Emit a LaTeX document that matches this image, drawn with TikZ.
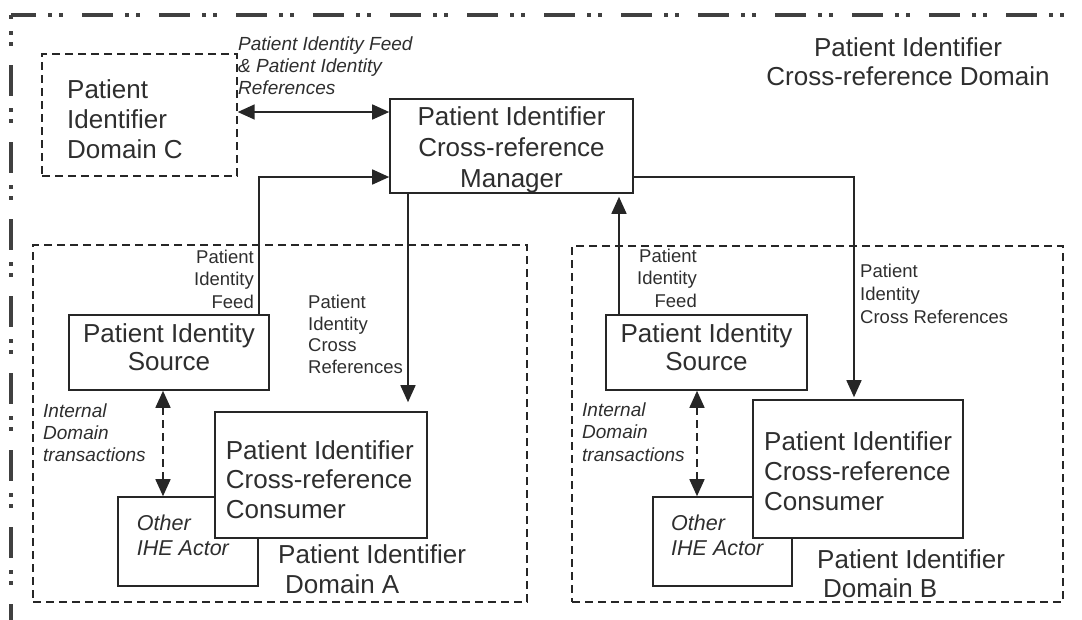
\documentclass[tikz,border=0pt]{standalone}
\usepackage{fontspec}
\setmainfont{Liberation Sans}
\usetikzlibrary{arrows.meta}

\definecolor{ink}{HTML}{262626}
\definecolor{txt}{HTML}{2E2E2E}
\definecolor{frame}{HTML}{404040}

\tikzset{
  actor/.style={draw=ink, line width=1.6pt, fill=white, inner sep=0pt},
  domainbox/.style={draw=ink, line width=1.4pt, dash pattern=on 8pt off 5pt, inner sep=0pt},
  bigtext/.style={font=\fontsize{26}{#1}\selectfont, text=txt, inner sep=0pt},
  bigtext/.default=30,
  smalltext/.style={font=\fontsize{18.5}{#1}\selectfont, text=txt, inner sep=0pt},
  smalltext/.default=22.5,
  itext/.style={font=\itshape\fontsize{19}{#1}\selectfont, text=txt, inner sep=0pt},
  itext/.default=22,
  flow/.style={draw=ink, line width=1.6pt, ->},
  duplex/.style={draw=ink, line width=1.6pt, <->},
  outerline/.style={draw=frame, line width=4pt,
    dash pattern=on 31pt off 12pt on 4pt off 7pt on 4pt off 19pt}
}

\begin{document}
\begin{tikzpicture}[x=1pt, y=-1pt, >={Triangle[length=17pt,width=15pt]}]
\useasboundingbox (0,0) rectangle (1082,619);
\clip (0,0) rectangle (1082,619);
% cross-reference domain frame
\draw[outerline, dash phase=6pt] (11,15) -- (1110,15);
\draw[outerline, dash phase=27pt] (11,15) -- (11,650);

% domains
\node[domainbox, minimum width=195pt, minimum height=122pt] (domC) at (139.5,115) {};
\node[domainbox, minimum width=494pt, minimum height=357pt] (domA) at (280,423.5) {};
\node[domainbox, minimum width=491pt, minimum height=356pt] (domB) at (817.5,424) {};

% actors
\node[actor, minimum width=243pt, minimum height=94pt] (mgr) at (511.5,146) {};
\node[actor, minimum width=200pt, minimum height=75pt] (srcA) at (169,352.5) {};
\node[actor, minimum width=201pt, minimum height=75pt] (srcB) at (706.5,352.5) {};
\node[actor, minimum width=140pt, minimum height=89pt] (othA) at (188,541.5) {};
\node[actor, minimum width=139pt, minimum height=89pt] (othB) at (722.5,541.5) {};
\node[actor, minimum width=212pt, minimum height=126pt] (consA) at (321,475) {};
\node[actor, minimum width=210pt, minimum height=138pt] (consB) at (858,469) {};

% texts
\node[bigtext, align=left, anchor=north west] (domCtext) at (67,79.4) {Patient\\Identifier\\Domain C};
\node[bigtext=29, align=center, anchor=north] (xrdomtext) at (908,37.4) {Patient Identifier\\Cross-reference Domain};
\node[bigtext=31, align=center, anchor=north] (mgrtext) at (511.5,106.4) {Patient Identifier\\Cross-reference\\Manager};
\node[bigtext=28.3, align=center, anchor=north] (srcAtext) at (169,323) {Patient Identity\\Source};
\node[bigtext=28.3, align=center, anchor=north] (srcBtext) at (706.5,323) {Patient Identity\\Source};
\node[bigtext=29.5, align=left, anchor=north west] (consAtext) at (225.7,440.4) {Patient Identifier\\Cross-reference\\Consumer};
\node[bigtext=30, align=left, anchor=north west] (consBtext) at (764,431.4) {Patient Identifier\\Cross-reference\\Consumer};
\node[bigtext=30, align=left, anchor=north west] (domAtext) at (278,544.7) {Patient Identifier\\\hspace*{7pt}Domain A};
\node[bigtext=28.5, align=left, anchor=north west] (domBtext) at (817,549.7) {Patient Identifier\\\hspace*{6pt}Domain B};
\node[itext=25, font=\itshape\fontsize{21.5}{25}\selectfont, align=left, anchor=north west] (othAtext) at (136.7,514.6) {Other\\IHE Actor};
\node[itext=25, font=\itshape\fontsize{21.5}{25}\selectfont, align=left, anchor=north west] (othBtext) at (671,514.6) {Other\\IHE Actor};

% transactions
\draw[duplex] ([yshift=3pt]domC.east) -- ([yshift=34pt]mgr.west);
\draw[flow] ([xshift=90pt]srcA.north) |- ([yshift=-31pt]mgr.west);
\coordinate (xrA) at ([xshift=-103.5pt]mgr.south);
\draw[flow, shorten >=9pt] (xrA) -- (xrA |- consA.north);
\coordinate (feedB) at ([xshift=-87.5pt]srcB.north);
\draw[flow, shorten >=3pt] (feedB) -- (feedB |- mgr.south);
\draw[flow, shorten >=2pt] ([yshift=-31pt]mgr.east) -| ([xshift=-4pt]consB.north);
\coordinate (intA) at ([xshift=-25pt]othA.north);
\draw[duplex, dash pattern=on 8pt off 5pt] (intA) -- (intA |- srcA.south);
\coordinate (intB) at ([xshift=-25.5pt]othB.north);
\draw[duplex, dash pattern=on 8pt off 5pt] (intB) -- (intB |- srcB.south);

% transaction labels
\node[itext, align=left, anchor=north west] (feedCtext) at (238,36.4) {Patient Identity Feed\\\& Patient Identity\\References};
\node[smalltext, align=right, anchor=north east] (feedAtext) at (254,249.8) {Patient\\Identity\\Feed};
\node[smalltext, align=right, anchor=north east] (feedBtext) at (697,248.8) {Patient\\Identity\\Feed};
\node[smalltext=21.7, align=left, anchor=north west] (xrAtext) at (308,294.8) {Patient\\Identity\\Cross\\References};
\node[smalltext=23, align=left, anchor=north west] (xrBtext) at (860,263.8) {Patient\\Identity\\Cross References};
\node[itext, align=left, anchor=north west] (intAtext) at (43,403.4) {Internal\\Domain\\transactions};
\node[itext=22.5, align=left, anchor=north west] (intBtext) at (582,402.4) {Internal\\Domain\\transactions};
\end{tikzpicture}
\end{document}
